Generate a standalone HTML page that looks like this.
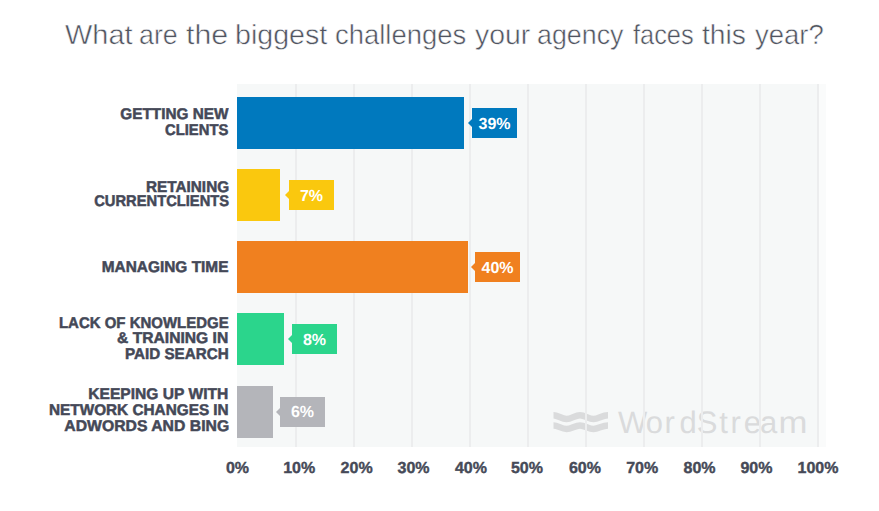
<!DOCTYPE html>
<html>
<head>
<meta charset="utf-8">
<style>
html,body{margin:0;padding:0;background:#fff;}
body{width:879px;height:511px;overflow:hidden;position:relative;font-family:"Liberation Sans",sans-serif;text-rendering:geometricPrecision;}
.a{position:absolute;}
.tw{position:absolute;top:19px;font-size:27.6px;color:#50545f;-webkit-text-stroke:0.5px #fff;white-space:nowrap;line-height:32px;transform-origin:0 50%;}
#plot{left:237px;top:84px;width:581px;height:363px;background:#f6f8f8;}
#plotr{left:818px;top:84px;width:8px;height:363px;background:#fafbfb;}
.g{position:absolute;top:84px;height:363px;width:2px;background:#ecedee;}
.bar{position:absolute;left:237px;height:52px;}
.lab{position:absolute;height:30px;width:45px;color:#fff;font-weight:bold;font-size:16px;line-height:34px;text-align:center;}
.lab:before{content:"";position:absolute;left:-4px;top:10.5px;border-style:solid;border-width:4.5px 4px 4.5px 0;border-color:transparent;border-right-color:inherit;}
.cat{position:absolute;right:650.3px;transform-origin:100% 50%;font-weight:bold;font-size:15.5px;line-height:15px;color:#444857;-webkit-text-stroke:0.5px #444857;white-space:nowrap;text-align:right;}
.ax{position:absolute;top:459px;width:60px;margin-left:-30px;text-align:center;font-weight:bold;font-size:16px;line-height:20px;color:#464a58;-webkit-text-stroke:0.4px #464a58;}
.ws{position:absolute;top:404.8px;font-size:31px;color:#dadbdc;white-space:nowrap;line-height:36px;}
</style>
</head>
<body>
<div class="tw" style="left:64.7px;transform:scaleX(1.048)">What</div>
<div class="tw" style="left:139.0px;transform:scaleX(0.971)">are</div>
<div class="tw" style="left:185.8px;transform:scaleX(1.100)">the</div>
<div class="tw" style="left:235.3px;transform:scaleX(1.037)">biggest</div>
<div class="tw" style="left:335.4px;transform:scaleX(0.994)">challenges</div>
<div class="tw" style="left:474.6px;transform:scaleX(1.030)">your</div>
<div class="tw" style="left:537.3px;transform:scaleX(0.972)">agency</div>
<div class="tw" style="left:633.1px;transform:scaleX(0.920)">faces</div>
<div class="tw" style="left:702.4px;transform:scaleX(1.024)">this</div>
<div class="tw" style="left:755.0px;transform:scaleX(0.997)">year?</div>

<div class="a" id="plot"></div>
<div class="a" id="plotr"></div>

<!-- watermark -->
<svg class="a" style="left:553px;top:411px" width="56" height="23" viewBox="0 0 56 23">
  <path d="M0.5,4.2 C5,4.2 8.5,8 13.5,8 C18.5,8 22,4.2 27,4.2 C32,4.2 35.5,8 40.5,8 C45.5,8 49,4.2 55,4.2" fill="none" stroke="#dadbdc" stroke-width="6.5"/>
  <path d="M0.5,14.4 C5,14.4 8.5,18 13.5,18 C18.5,18 22,14.4 27,14.4 C32,14.4 35.5,18 40.5,18 C45.5,18 49,14.4 55,14.4" fill="none" stroke="#dadbdc" stroke-width="6.5"/>
</svg>
<div class="ws" style="left:618.1px">W</div>
<div class="ws" style="left:645.8px">o</div>
<div class="ws" style="left:664.5px">r</div>
<div class="ws" style="left:679.5px">d</div>
<div class="ws" style="left:696.7px">S</div>
<div class="ws" style="left:719.2px">t</div>
<div class="ws" style="left:730.4px">r</div>
<div class="ws" style="left:743.7px">e</div>
<div class="ws" style="left:759.9px">a</div>
<div class="ws" style="left:779.8px;transform:scaleX(1.12)">m</div>

<!-- grid -->
<div class="g" style="left:295px"></div>
<div class="g" style="left:353px"></div>
<div class="g" style="left:411px"></div>
<div class="g" style="left:469px"></div>
<div class="g" style="left:527px"></div>
<div class="g" style="left:585px"></div>
<div class="g" style="left:643px"></div>
<div class="g" style="left:701px"></div>
<div class="g" style="left:759px"></div>
<div class="g" style="left:817px"></div>

<!-- bars -->
<div class="bar" style="top:97px;width:227px;background:#0079be"></div>
<div class="lab" style="left:472px;top:108px;background:#0079be;border-color:#0079be">39%</div>

<div class="bar" style="top:169px;width:43px;background:#fac80e"></div>
<div class="lab" style="left:289px;top:180px;background:#fac80e;border-color:#fac80e">7%</div>

<div class="bar" style="top:241px;width:231px;background:#f0801f"></div>
<div class="lab" style="left:475px;top:252px;background:#f0801f;border-color:#f0801f">40%</div>

<div class="bar" style="top:313px;width:47px;background:#2bd58c"></div>
<div class="lab" style="left:292px;top:324px;background:#2bd58c;border-color:#2bd58c">8%</div>

<div class="bar" style="top:385.5px;width:35.5px;background:#b4b5ba"></div>
<div class="lab" style="left:280px;top:397px;line-height:32.5px;background:#b4b5ba;border-color:#b4b5ba">6%</div>

<!-- category labels -->
<div class="cat" style="top:106.6px;transform:scaleX(0.988)">GETTING NEW</div>
<div class="cat" style="top:122.5px;transform:scaleX(0.955)">CLIENTS</div>

<div class="cat" style="top:179.5px;transform:scaleX(0.988)">RETAINING</div>
<div class="cat" style="top:194.1px;transform:scaleX(0.949)">CURRENTCLIENTS</div>

<div class="cat" style="top:259.7px;transform:scaleX(0.994)">MANAGING TIME</div>

<div class="cat" style="top:316.1px;transform:scaleX(0.966)">LACK OF KNOWLEDGE</div>
<div class="cat" style="top:331.3px;transform:scaleX(1.009)">&amp; TRAINING IN</div>
<div class="cat" style="top:347px;transform:scaleX(0.981)">PAID SEARCH</div>

<div class="cat" style="top:387.2px;transform:scaleX(1.005)">KEEPING UP WITH</div>
<div class="cat" style="top:403.2px;transform:scaleX(0.989)">NETWORK CHANGES IN</div>
<div class="cat" style="top:419.1px;transform:scaleX(1.017)">ADWORDS AND BING</div>

<!-- axis -->
<div class="ax" style="left:237.5px">0%</div>
<div class="ax" style="left:299.2px">10%</div>
<div class="ax" style="left:356.6px">20%</div>
<div class="ax" style="left:413.5px">30%</div>
<div class="ax" style="left:470.9px">40%</div>
<div class="ax" style="left:526.9px">50%</div>
<div class="ax" style="left:584.9px">60%</div>
<div class="ax" style="left:642.2px">70%</div>
<div class="ax" style="left:699.5px">80%</div>
<div class="ax" style="left:756.4px">90%</div>
<div class="ax" style="left:818px">100%</div>
</body>
</html>
